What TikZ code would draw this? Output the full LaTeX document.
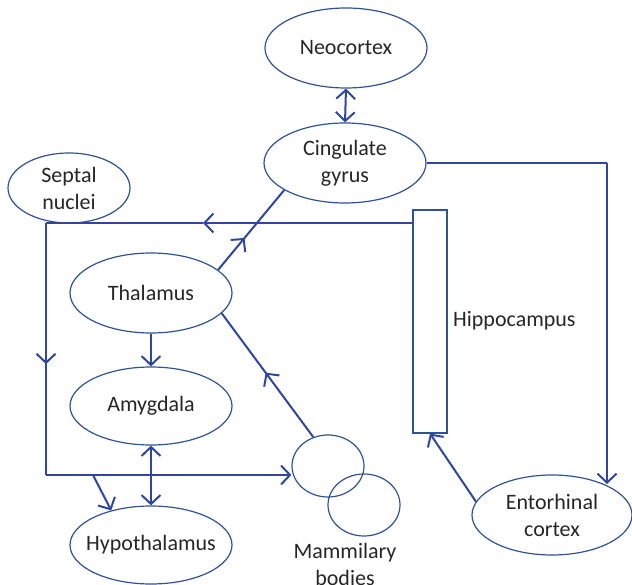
\documentclass[tikz,border=0pt]{standalone}
\usepackage{fontspec}
\setmainfont{Carlito}
\usetikzlibrary{arrows.meta,shapes.geometric,decorations.markings}
\definecolor{lineblue}{RGB}{46,70,158}
\definecolor{edgeblue}{RGB}{47,82,150}
\definecolor{txt}{RGB}{38,38,38}
\tikzset{
  lbl/.style={text=txt,font=\fontsize{22}{27}\selectfont,align=center,inner sep=0pt},
  oval/.style={ellipse,draw=edgeblue,line width=1.2pt,inner sep=0pt,
    minimum width=162pt,minimum height=80pt,label={[lbl]center:#1}},
  oval/.default={},
  conn/.style={draw=lineblue,line width=2pt},
  tip/.style={-{Straight Barb[length=9pt,width=19pt,line width=2pt]}},
  tips/.style={{Straight Barb[length=9pt,width=19pt,line width=2pt]}-{Straight Barb[length=9pt,width=19pt,line width=2pt]}},
  midtip/.style={postaction={decorate},decoration={markings,
    mark=at position #1 with {\arrow{Straight Barb[length=9pt,width=19pt,line width=2pt]}}}}
}
\begin{document}
\begin{tikzpicture}[x=1pt,y=-1pt]
\useasboundingbox (0,0) rectangle (632,585);
\clip (0,0) rectangle (632,585);
% nodes
\node[oval={Neocortex}] (neo) at (346,48) {};
\node[oval={Cingulate\\gyrus}] (cing) at (345,163) {};
\node[oval={Septal\\nuclei},minimum width=122pt,minimum height=70pt] (sep) at (69,188) {};
\node[oval={Thalamus}] (thal) at (151,293) {};
\node[oval={Amygdala},minimum height=78pt] (amy) at (151,406) {};
\node[oval={Hypothalamus},minimum height=78pt] (hyp) at (151,545) {};
\node[oval,minimum width=72pt,minimum height=62pt] (mb1) at (328,466) {};
\node[oval,minimum width=72pt,minimum height=62pt] (mb2) at (364,505) {};
\node[lbl,anchor=north] (mbl) at (345,543) {Mammilary\\bodies};
\node[draw=edgeblue,line width=1.2pt,minimum width=34pt,minimum height=223pt,inner sep=0pt] (hip) at (430,321.5) {};
\node[lbl,anchor=west] (hipl) at (453,321) {Hippocampus};
\node[oval={Entorhinal\\cortex},minimum width=160pt] (ent) at (552,515) {};
% coordinates
\coordinate (a) at (413,223);
\coordinate (b) at (46,223);
\coordinate (c) at (46,475);
\coordinate (d) at (93,475);
\coordinate (e) at (607,163);
\coordinate (f) at (607,484);
\coordinate (g) at (203,223);
% connectors
\draw[conn,tips] (neo.south) -- (cing.north);
\draw[conn,tip] (a) -- (g);
\draw[conn] (g) -- (b);
\draw[conn,midtip=0.56] (b) -- (c);
\draw[conn,tip] (c) -- (mb1.west |- c);
\draw[conn,tip] (d) -- (hyp.139);
\draw[conn,tip] (thal.south) -- (amy.north);
\draw[conn,tips] (amy.south) -- (hyp.north);
\draw[conn,midtip=0.4] (thal.19) -- (cing.204);
\draw[conn,midtip=0.52] (mb1.117) -- (thal.-16);
\draw[conn] (cing.east) -- (e);
\draw[conn,tip] (e) -- (f);
\draw[conn,tip] (ent.170) -- (hip.south);
\end{tikzpicture}
\end{document}
